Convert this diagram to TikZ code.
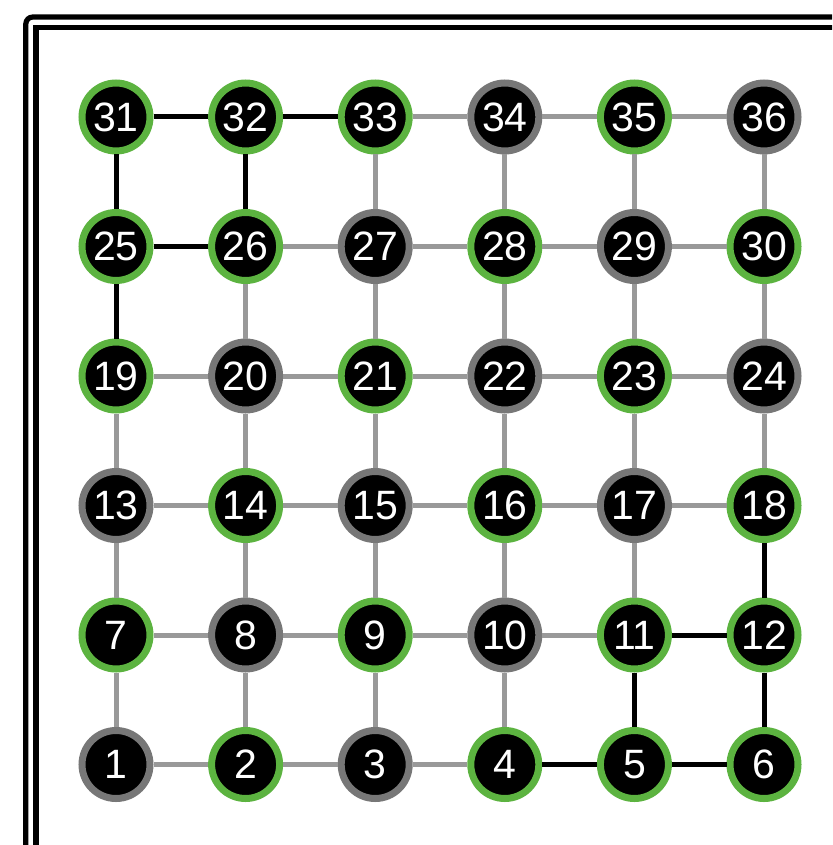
\documentclass[tikz,border=0pt]{standalone}
\usepackage{fontspec}
\setmainfont{Liberation Sans}
\definecolor{gring}{HTML}{5CB340}
\definecolor{kring}{HTML}{777777}
\definecolor{gedge}{HTML}{999999}
\tikzset{
  vtx/.style={circle, minimum size=68pt, inner sep=0pt, line width=7pt, fill=black, text=white, font=\fontsize{41}{41}\selectfont},
  gv/.style={vtx, draw=gring},
  kv/.style={vtx, draw=kring},
  ge/.style={draw=gedge, line width=5pt},
  be/.style={draw=black, line width=5pt},
  frameline/.style={draw=black, line width=5.2pt}
}
\begin{document}
\begin{tikzpicture}[x=1pt,y=-1pt]
\useasboundingbox (0,0) rectangle (832,845);
\clip (0,0) rectangle (832,845);
\fill[white] (0,0) rectangle (832,845);
% frame
\draw[frameline, rounded corners=7pt] (25.8,860) -- (25.8,17) -- (860,17);
\draw[frameline] (36,860) -- (36,27.5) -- (860,27.5);
% nodes
\foreach \n/\s in {1/kv,2/gv,3/kv,4/gv,5/gv,6/gv,
                   7/gv,8/kv,9/gv,10/kv,11/gv,12/gv,
                   13/kv,14/gv,15/kv,16/gv,17/kv,18/gv,
                   19/gv,20/kv,21/gv,22/kv,23/gv,24/kv,
                   25/gv,26/gv,27/kv,28/gv,29/kv,30/gv,
                   31/gv,32/gv,33/gv,34/kv,35/gv,36/kv}{
  \pgfmathtruncatemacro{\ci}{mod(\n-1,6)}
  \pgfmathtruncatemacro{\rj}{5-floor((\n-1)/6)}
  \pgfmathsetmacro{\px}{116+129.6*\ci}
  \pgfmathsetmacro{\py}{117+129.5*\rj}
  \node[\s] (n\n) at (\px,\py) {\n};
}
% gray grid edges
\foreach \r in {0,...,5}{
  \foreach \c in {1,...,5}{
    \pgfmathtruncatemacro{\a}{6*\r+\c}
    \pgfmathtruncatemacro{\b}{\a+1}
    \draw[ge] (n\a) -- (n\b);
  }
}
\foreach \r in {0,...,4}{
  \foreach \c in {1,...,6}{
    \pgfmathtruncatemacro{\a}{6*\r+\c}
    \pgfmathtruncatemacro{\b}{\a+6}
    \draw[ge] (n\a) -- (n\b);
  }
}
% black edges
\foreach \a/\b in {31/32,32/33,31/25,32/26,25/26,25/19,18/12,11/12,11/5,12/6,4/5,5/6}{
  \draw[be] (n\a) -- (n\b);
}
\end{tikzpicture}
\end{document}
